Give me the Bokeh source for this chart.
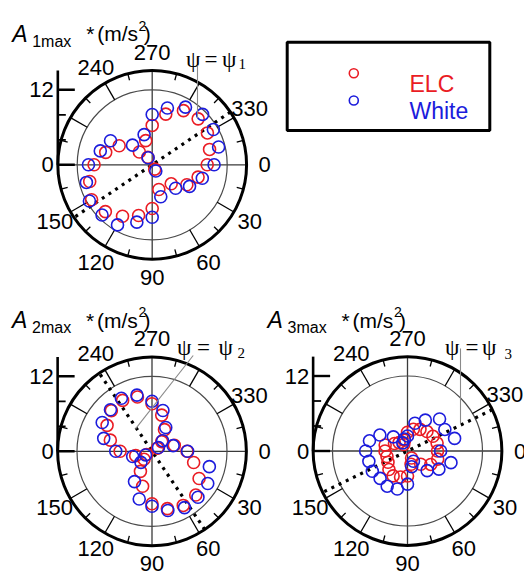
import numpy as np
from bokeh.plotting import figure
from bokeh.models import Range1d
from bokeh.core.properties import value
from bokeh.embed import file_html
from bokeh.resources import INLINE

# ---------------- data ----------------
angles_deg = list(range(0, 360, 15))

elc_a1 = [8.8, 7.6, 6.4, 4.3, 0.8, 4.1, 7.0, 8.4, 9.5, 10.6, 11.2, 10.35,
          9.3, 7.7, 6.1, 2.9, 1.4, 4.0, 6.3, 8.4, 10.0, 10.4, 10.2, 9.5]
white_a1 = [9.9, 8.3, 6.9, 5.3, 1.15, 5.3, 8.4, 9.5, 11.1, 11.35, 11.6, 10.9,
            10.2, 8.6, 7.7, 4.45, 1.3, 5.0, 8.05, 9.4, 10.65, 11.4, 11.3, 11.0]

elc_a2 = [5.6, 6.9, 8.7, 9.9, 10.0, 9.5, 8.4, 5.8, 3.7, 1.8, 1.0, 2.7,
          5.1, 6.9, 8.3, 9.2, 9.4, 9.0, 7.6, 6.0, 4.0, 2.2, 1.0, 3.7]
white_a2 = [5.7, 9.5, 10.3, 10.4, 10.4, 9.8, 8.8, 7.9, 5.6, 2.5, 1.2, 3.2,
            5.8, 8.0, 9.2, 9.4, 9.8, 9.3, 8.0, 6.75, 4.4, 2.4, 1.2, 3.5]

elc_a3 = [4.8, 5.0, 4.3, 3.0, 1.3, 2.2, 4.0, 4.3, 4.6, 4.2, 3.6, 3.4,
          3.6, 3.7, 2.4, 1.9, 1.2, 1.8, 3.0, 3.6, 4.0, 4.4, 4.7, 4.9]
white_a3 = [5.3, 7.2, 5.8, 4.45, 1.9, 2.6, 5.3, 6.3, 6.5, 6.2, 6.5, 6.4,
            6.7, 6.3, 5.1, 3.2, 1.5, 2.0, 2.4, 4.6, 5.7, 7.25, 6.9, 7.8]

psi_deg = [326, 56, 334]
plot_index = ["1", "2", "3"]

angle_label_deg = [240, 270, 330, 0, 30, 60, 90, 120, 150]
angle_label_txt = ["240", "270", "330", "0", "30", "60", "90", "120", "150"]
r_ticks = [0, 4, 8, 12]
r_tick_labels = ["0", "12"]
r_tick_label_vals = [0, 12]

series_names = ["ELC", "White"]

# ---------------- styling / layout ----------------
RED = "#ea1c24"
BLUE = "#1c1cdc"
S = 6.25          # px per m/s^2
R_IN = 12.0
R_OUT = 15.1
R_LAB = 18.0
FONT = value("Liberation Sans")
SERIF = value("Liberation Serif")

centers = [(151.7, 164.3), (151.5, 450.8), (407.0, 450.5)]

p = figure(width=524, height=572, output_backend="svg", toolbar_location=None,
           x_range=Range1d(0, 524), y_range=Range1d(572, 0), min_border=0)
p.xaxis.visible = False
p.yaxis.visible = False
p.grid.visible = False
p.outline_line_color = None
p.background_fill_color = "white"
p.border_fill_color = "white"


def pxy(cx, cy, r, th):
    t = np.deg2rad(np.asarray(th, dtype=float))
    r = np.asarray(r, dtype=float)
    return cx + r * S * np.cos(t), cy + r * S * np.sin(t)


datasets = [(elc_a1, white_a1), (elc_a2, white_a2), (elc_a3, white_a3)]

psi_lab = [
    dict(x=[185.5, 204.0, 221.5], sx=238.0, base=58.5, sub=63.5),
    dict(x=[176.5, 196.5, 218.0], sx=237.0, base=346.5, sub=352.0),
    dict(x=[444.5, 465.0, 481.5], sx=504.0, base=347.0, sub=353.0),
]
leaders = [((197.0, 65.0), (197.0, 118.0)),
           ((192.7, 355.0), (135.0, 428.3)),
           ((460.0, 348.0), (460.0, 423.0))]

for k, (cx, cy) in enumerate(centers):
    elc, white = datasets[k]
    ro = R_OUT * S
    # crosshair
    p.segment(x0=[cx - ro, cx], y0=[cy, cy - ro], x1=[cx + ro, cx], y1=[cy, cy + ro],
              line_color="#3a3a3a", line_width=1.3)
    # inner circle and outer circle
    p.circle(x=[cx], y=[cy], radius=R_IN * S, fill_color=None,
             line_color="#4a4a4a", line_width=1.2)
    p.circle(x=[cx], y=[cy], radius=ro, fill_color=None,
             line_color="black", line_width=3)
    # angular ticks
    ta = [a for a in range(15, 360, 15) if a % 90 != 0]
    r0 = [R_IN if a % 30 == 0 else 14.0 for a in ta]
    x0, y0 = pxy(cx, cy, r0, ta)
    x1, y1 = pxy(cx, cy, [R_OUT] * len(ta), ta)
    p.segment(x0=x0, y0=y0, x1=x1, y1=y1, line_color="black", line_width=1.3)
    # psi dotted line
    ps = psi_deg[k]
    xa, ya = pxy(cx, cy, [R_OUT, R_OUT], [ps, ps + 180])
    p.line(x=list(xa), y=list(ya), line_color="black", line_width=3.2,
           line_dash="3 5")
    # data
    xr, yr = pxy(cx, cy, elc, angles_deg)
    p.scatter(x=xr, y=yr, marker="circle", size=12, fill_color=None,
              line_color=RED, line_width=1.6)
    xb, yb = pxy(cx, cy, white, angles_deg)
    p.scatter(x=xb, y=yb, marker="circle", size=12, fill_color=None,
              line_color=BLUE, line_width=1.6)
    # radial axis
    ax = cx - ro
    p.segment(x0=[ax], y0=[cy], x1=[ax], y1=[cy - ro], line_color="black",
              line_width=2.6)
    tl = [17 if v in r_tick_label_vals else 8 for v in r_ticks]
    ty = [cy - v * S for v in r_ticks]
    p.segment(x0=[ax] * len(r_ticks), y0=ty, x1=[ax + l for l in tl], y1=ty,
              line_color="black", line_width=[2.4 if l == 17 else 1.8 for l in tl])
    p.text(x=[ax - 4] * len(r_tick_labels), y=[cy - v * S for v in r_tick_label_vals],
           text=r_tick_labels, text_font=FONT, text_font_size="22px",
           text_align="right", text_baseline="middle", text_color="black")
    # angle labels
    lx, ly = pxy(cx, cy, [R_LAB] * len(angle_label_deg), angle_label_deg)
    p.text(x=lx, y=ly, text=angle_label_txt, text_font=FONT, text_font_size="22px",
           text_align="center", text_baseline="middle", text_color="black")
    # title pieces
    tb = cy - 131
    p.text(x=[cx - 140], y=[tb], text=["A"], text_font=FONT, text_font_size="23px",
           text_font_style="italic", text_baseline="alphabetic", text_align="left",
           text_color="black")
    p.text(x=[cx - 120], y=[tb + 7.5], text=[plot_index[k] + "max"], text_font=FONT,
           text_font_size="16px", text_baseline="alphabetic", text_align="left",
           text_color="black")
    p.text(x=[cx - 66.0, cx - 55, cx - 8.4], y=[tb, tb, tb], text=["*", "(m/s", ")"],
           text_font=FONT, text_font_size="21px", text_baseline="alphabetic",
           text_align="left", text_color="black")
    p.text(x=[cx - 13.6], y=[tb - 8], text=["2"], text_font=FONT, text_font_size="14px",
           text_baseline="alphabetic", text_align="left", text_color="black")
    # psi label
    pl = psi_lab[k]
    p.text(x=pl["x"], y=[pl["base"]] * 3, text=["\u03c8", "=", "\u03c8"],
           text_font=SERIF, text_font_size="23px", text_baseline="alphabetic",
           text_align="left", text_color="black")
    p.text(x=[pl["sx"]], y=[pl["sub"]], text=[plot_index[k]], text_font=SERIF,
           text_font_size="15px", text_baseline="alphabetic", text_align="left",
           text_color="black")
    (lx0, ly0), (lx1, ly1) = leaders[k]
    p.segment(x0=[lx0], y0=[ly0], x1=[lx1], y1=[ly1], line_color="#8a8a8a",
              line_width=1.1)

# legend box
p.quad(left=[286.7], right=[489.3], top=[41.7], bottom=[130.0], fill_color=None,
       line_color="black", line_width=3)
p.scatter(x=[353.3, 353.3], y=[72.7, 100.0], marker="circle", size=9,
          fill_color=None, line_color=[RED, BLUE], line_width=1.6)
p.text(x=[409.0, 409.0], y=[83.0, 110.5], text=series_names, text_font=FONT,
       text_font_size="23px", text_align="left", text_baseline="alphabetic",
       text_color=[RED, BLUE])

open("out.html", "w").write(file_html(p, INLINE))
